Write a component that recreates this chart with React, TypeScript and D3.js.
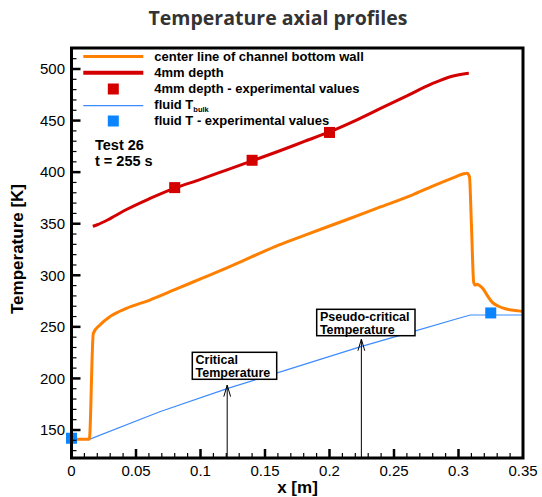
import React from "react";
import * as d3 from "d3";

// ---------- data ----------
const centerLineX = [0, 0.0138, 0.0169, 0.022, 0.0298, 0.0426, 0.0607, 0.08, 0.1, 0.12, 0.14, 0.161, 0.18, 0.2127, 0.24, 0.264, 0.28, 0.2977, 0.304, 0.3067, 0.3085, 0.31, 0.3118, 0.313, 0.3145, 0.316, 0.319, 0.322, 0.326, 0.331, 0.3363, 0.3466, 0.35];
const centerLineT = [141, 141, 243.7, 251.8, 259.9, 268, 276, 286, 296.5, 307, 318, 329.4, 338.5, 353.6, 366.5, 377.8, 386.5, 395.5, 398.5, 399, 395.6, 350, 293, 290.5, 291.3, 290.3, 287, 281, 274, 270, 267.5, 265.5, 265];

const depthX = [0.0165, 0.02, 0.03, 0.043, 0.06, 0.08, 0.1, 0.12, 0.14, 0.16, 0.18, 0.2, 0.22, 0.24, 0.26, 0.28, 0.295, 0.305, 0.308];
const depthT = [347.5, 349, 355, 364, 374, 384.5, 393, 402, 411, 420, 429.5, 439, 450, 462, 474, 486, 493, 495.5, 495.8];

const depthExpX = [0.08, 0.14, 0.2];
const depthExpT = [385, 411.5, 438.5];

const bulkX = [0, 0.0138, 0.0684, 0.1212, 0.17, 0.2243, 0.26, 0.3002, 0.3093, 0.35];
const bulkT = [141, 141, 167.7, 190.4, 209.5, 230.8, 243.7, 258.3, 261.5, 261.5];

const fluidExpX = [0, 0.325];
const fluidExpT = [142, 263.5];

const xTicks = [0, 0.05, 0.1, 0.15, 0.2, 0.25, 0.3, 0.35];
const xTickLabels = ["0", "0.05", "0.1", "0.15", "0.2", "0.25", "0.3", "0.35"];
const yTicks = [150, 200, 250, 300, 350, 400, 450, 500];

const annLabels = [["Critical", "Temperature"], ["Pseudo-critical", "Temperature"]];
const annX = [0.1207, 0.2247];
const annTipT = [193.5, 238];

// ---------- layout ----------
const W = 542, H = 497;
const L = 71.5, R = 523, T = 48, B = 458;
const COL_ORANGE = "#ff8000";
const COL_RED = "#d40000";
const COL_BLUE_LINE = "#3d8bff";
const COL_BLUE = "#0a84ff";
const FONT = "'Liberation Sans', Arial, sans-serif";

export default function App() {
  const x = d3.scaleLinear().domain([0, 0.35]).range([L, R]);
  const y = d3.scaleLinear().domain([150, 500]).range([430, 69]);

  const line = d3.line<[number, number]>().x(d => x(d[0])).y(d => y(d[1]));
  const smooth = d3.line<[number, number]>().x(d => x(d[0])).y(d => y(d[1])).curve(d3.curveMonotoneX);

  const orange = centerLineX.map((v, i) => [v, centerLineT[i]] as [number, number]);
  const red = depthX.map((v, i) => [v, depthT[i]] as [number, number]);
  const blue = bulkX.map((v, i) => [v, bulkT[i]] as [number, number]);

  const yMinorTicks = d3.range(130, 521, 10).filter(v => v % 50 !== 0 && y(v) > T + 2 && y(v) < B - 2);
  const xMinorTicks = d3.range(0, 36, 1).map(v => v / 100).filter(v => Math.round(v * 100) % 5 !== 0);

  const annBoxes = [
    { bx: 192.3, by: 352.3, bw: 84.4, bh: 27 },
    { bx: 316.7, by: 309.3, bw: 98.3, bh: 26.4 },
  ];

  const sq = 11;

  return (
    <svg width={W} height={H} style={{ position: "absolute", left: 0, top: 0, background: "#fff" }}>
      <text x={278} y={25} textAnchor="middle" fontFamily="'Open Sans', 'Noto Sans', sans-serif" fontWeight="bold" fontSize={19.5} fill="#333">Temperature axial profiles</text>

      {/* lines */}
      <path d={line(blue) || ""} fill="none" stroke={COL_BLUE_LINE} strokeWidth={1.2} />
      <path d={smooth(orange) || ""} fill="none" stroke={COL_ORANGE} strokeWidth={3} strokeLinejoin="round" />
      <path d={smooth(red) || ""} fill="none" stroke={COL_RED} strokeWidth={3} strokeLinejoin="round" />

      {/* markers */}
      {depthExpX.map((v, i) => (
        <rect key={"r" + i} x={x(v) - sq / 2} y={y(depthExpT[i]) - sq / 2} width={sq} height={sq} fill={COL_RED} />
      ))}
      {fluidExpX.map((v, i) => (
        <rect key={"b" + i} x={x(v) - sq / 2} y={y(fluidExpT[i]) - sq / 2} width={sq} height={sq} fill={COL_BLUE} />
      ))}

      {/* annotations */}
      {annX.map((v, i) => {
        const ax = x(v), tip = y(annTipT[i]);
        const b = annBoxes[i];
        return (
          <g key={"a" + i}>
            <line x1={ax} y1={B} x2={ax} y2={tip} stroke="#000" strokeWidth={1} />
            <polyline points={`${ax - 3.4},${tip + 11.5} ${ax},${tip} ${ax + 3.4},${tip + 11.5}`} fill="none" stroke="#000" strokeWidth={1} />
            <rect x={b.bx} y={b.by} width={b.bw} height={b.bh} fill="#fff" stroke="#000" strokeWidth={1.5} />
            {annLabels[i].map((s, j) => (
              <text key={j} x={b.bx + 3.2} y={b.by + 11.8 + j * 12.6} fontFamily={FONT} fontWeight="bold" fontSize={12.5} fill="#000">{s}</text>
            ))}
          </g>
        );
      })}

      {/* ticks */}
      {yTicks.map(v => (
        <g key={"yt" + v}>
          <line x1={L} x2={L + 9} y1={y(v)} y2={y(v)} stroke="#000" strokeWidth={2.5} />
          <text x={65} y={y(v) + 5.3} textAnchor="end" fontFamily={FONT} fontSize={15} fill="#000">{v}</text>
        </g>
      ))}
      {yMinorTicks.map(v => (
        <line key={"ym" + v} x1={L} x2={L + 5} y1={y(v)} y2={y(v)} stroke="#000" strokeWidth={1.2} />
      ))}
      {xTicks.map((v, i) => (
        <g key={"xt" + v}>
          {v > 0 && v < 0.35 && <line x1={x(v)} x2={x(v)} y1={B} y2={B - 9} stroke="#000" strokeWidth={2.5} />}
          <text x={x(v)} y={476} textAnchor="middle" fontFamily={FONT} fontSize={15} fill="#000">{xTickLabels[i]}</text>
        </g>
      ))}
      {xMinorTicks.map(v => (
        <line key={"xm" + v} x1={x(v)} x2={x(v)} y1={B} y2={B - 5} stroke="#000" strokeWidth={1.2} />
      ))}

      {/* frame */}
      <rect x={L} y={T} width={R - L} height={B - T} fill="none" stroke="#000" strokeWidth={3} />

      {/* axis titles */}
      <text x={297.5} y={493} textAnchor="middle" fontFamily={FONT} fontWeight="bold" fontSize={17} fill="#000">x [m]</text>
      <text transform={`translate(23,249) rotate(-90)`} textAnchor="middle" fontFamily={FONT} fontWeight="bold" fontSize={17} fill="#000">Temperature [K]</text>

      {/* legend */}
      <line x1={83.3} x2={143.3} y1={56.5} y2={56.5} stroke={COL_ORANGE} strokeWidth={3} />
      <line x1={83.3} x2={143.3} y1={72.7} y2={72.7} stroke={COL_RED} strokeWidth={4} />
      <rect x={113.3 - sq / 2} y={89 - sq / 2} width={sq} height={sq} fill={COL_RED} />
      <line x1={83.3} x2={143.3} y1={105.7} y2={105.7} stroke={COL_BLUE_LINE} strokeWidth={1.2} />
      <rect x={113.3 - sq / 2} y={121 - sq / 2} width={sq} height={sq} fill={COL_BLUE} />
      <g fontFamily={FONT} fontWeight="bold" fontSize={13} fill="#000">
        <text x={154.3} y={60.5}>center line of channel bottom wall</text>
        <text x={154.3} y={76.5}>4mm depth</text>
        <text x={154.3} y={93}>4mm depth - experimental values</text>
        <text x={154.3} y={108.5}>fluid T<tspan fontSize={7.5} dy={3.3}>bulk</tspan></text>
        <text x={154.3} y={125}>fluid T - experimental values</text>
      </g>

      <g fontFamily={FONT} fontWeight="bold" fontSize={14.5} fill="#000">
        <text x={95} y={150}>Test 26</text>
        <text x={95} y={165.5}>t = 255 s</text>
      </g>
    </svg>
  );
}
